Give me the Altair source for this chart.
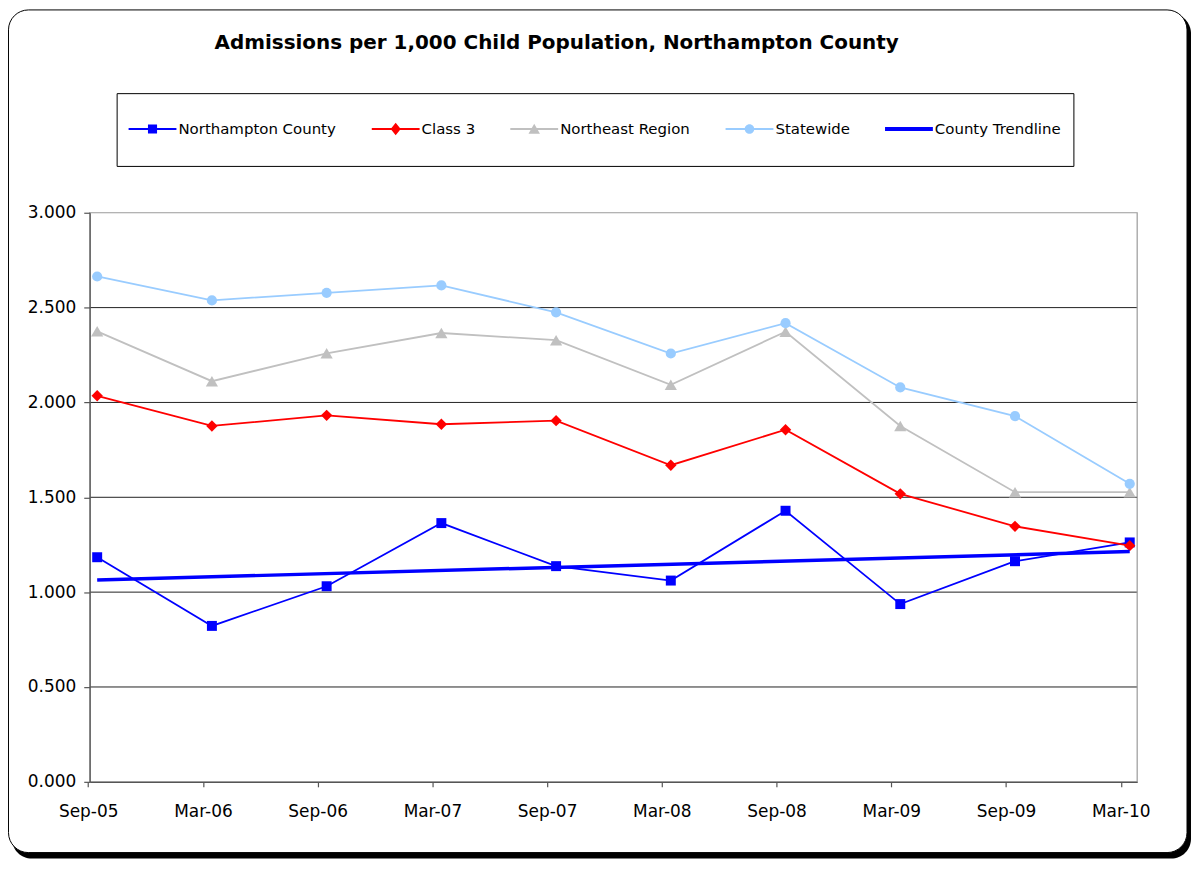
import altair as alt
import pandas as pd

periods = ["Sep-05", "Mar-06", "Sep-06", "Mar-07", "Sep-07",
           "Mar-08", "Sep-08", "Mar-09", "Sep-09", "Mar-10"]
county = [1.184, 0.822, 1.031, 1.364, 1.137, 1.061, 1.429, 0.937, 1.163, 1.262]
class3 = [2.035, 1.876, 1.932, 1.885, 1.904, 1.669, 1.856, 1.518, 1.347, 1.245]
northeast = [2.375, 2.112, 2.259, 2.366, 2.328, 2.093, 2.373, 1.876, 1.527, 1.527]
statewide = [2.664, 2.538, 2.578, 2.617, 2.475, 2.258, 2.418, 2.079, 1.928, 1.571]
y_ticks = [0.0, 0.5, 1.0, 1.5, 2.0, 2.5, 3.0]
grid_vals = [0.5, 1.0, 1.5, 2.0, 2.5]

series_names = ["Northampton County", "Class 3", "Northeast Region", "Statewide", "County Trendline"]
colors = ["#0000FF", "#FF0000", "#C0C0C0", "#99CCFF", "#0000FF"]
marker_shapes = ["square", "diamond", "triangle-up", "circle"]
marker_sizes = [100, 130, 150, 105]

# legend glyphs: line + marker; the trailing zero-length segment only extends the
# entry's layout box downward so the legend frame gets its reference height
EXT = "M0,1.04L0,1.04"
LINE = "M-1,-0.04H1V0.04H-1Z"
legend_paths = [
    LINE + "M-0.19,-0.19H0.19V0.19H-0.19Z" + EXT,
    LINE + "M0,-0.26L0.21,0L0,0.26L-0.21,0Z" + EXT,
    LINE + "M0,-0.22L0.24,0.2L-0.24,0.2Z" + EXT,
    LINE + "M-0.2,0A0.2,0.2,0,1,1,0.2,0A0.2,0.2,0,1,1,-0.2,0Z" + EXT,
    "M-1,-0.085H1V0.085H-1Z" + EXT,
]

rows = []
for name, vals in zip(series_names[:4], [county, class3, northeast, statewide]):
    for i, (p, v) in enumerate(zip(periods, vals)):
        rows.append({"idx": i, "period": p, "series": name, "value": v})
df = pd.DataFrame(rows)

W, H = 1051, 571
label_expr = "%s[round(datum.value)]" % str(periods)

x_enc = alt.X("idx:Q", title=None,
              scale=alt.Scale(domain=[-0.065, 9.065], nice=False, zero=False),
              axis=alt.Axis(values=list(range(10)), labelExpr=label_expr, grid=False,
                            tickOffset=-9, zindex=1))
y_axis = alt.Axis(values=y_ticks, format=".3f", grid=False, zindex=1)
y_scale = alt.Scale(domain=[0, 3], nice=False)

base = alt.Chart(df)

frame_shadow = alt.Chart(alt.Data(values=[{}])).mark_rect(
    color="black", cornerRadius=20
).encode(x=alt.value(-78), x2=alt.value(1105), y=alt.value(-200), y2=alt.value(648))
frame_white = alt.Chart(alt.Data(values=[{}])).mark_rect(
    fill="white", stroke="black", strokeWidth=1, cornerRadius=20
).encode(x=alt.value(-81.5), x2=alt.value(1101), y=alt.value(-203.5), y2=alt.value(642))

grid = alt.Chart(alt.Data(values=[{"g": v} for v in grid_vals])).mark_rule(
    color="#222222", strokeWidth=1
).encode(y=alt.Y("g:Q", scale=y_scale, axis=y_axis, title=None))

border = alt.Chart(alt.Data(values=[{}])).mark_rect(
    fillOpacity=0, stroke="#9a9a9a", strokeWidth=1.2
).encode(x=alt.value(0), x2=alt.value(W), y=alt.value(0), y2=alt.value(H))

layers = [frame_shadow, frame_white, grid, border]
for name, c, shp, sz in zip(series_names[:4], colors[:4], marker_shapes, marker_sizes):
    layers.append(
        base.transform_filter(alt.datum.series == name).mark_line(
            color=c, strokeWidth=1.8,
            point=alt.OverlayMarkDef(shape=shp, filled=True, size=sz, color=c, opacity=1),
        ).encode(x=x_enc, y=alt.Y("value:Q", scale=y_scale, axis=y_axis, title=None))
    )

trend = base.transform_filter(alt.datum.series == "Northampton County").transform_regression(
    "idx", "value"
).mark_line(color="#0000FF", strokeWidth=3.5).encode(
    x=x_enc, y=alt.Y("value:Q", scale=y_scale, axis=y_axis, title=None)
)
layers.append(trend)

legend_layer = base.transform_filter("false").mark_point(filled=True, opacity=1).encode(
    color=alt.Color("series:N", scale=alt.Scale(domain=series_names, range=colors),
                    legend=alt.Legend(title=None)),
    shape=alt.Shape("series:N", scale=alt.Scale(domain=series_names, range=legend_paths),
                    legend=alt.Legend(title=None)),
)
layers.append(legend_layer)

chart = alt.layer(*layers).properties(
    width=W, height=H,
    autosize=alt.AutoSizeParams(type="none"),
    padding={"left": 82, "top": 204, "right": 54, "bottom": 78},
    title=alt.TitleParams(
        text="Admissions per 1,000 Child Population, Northampton County",
        font="DejaVu Sans", fontSize=20, fontWeight="bold", color="black",
        anchor="middle", baseline="alphabetic", dx=-57, dy=60, offset=0,
    ),
).configure_view(
    strokeOpacity=0
).configure_axis(
    labelFont="DejaVu Sans", labelFontSize=17, labelColor="black",
    domainColor="#555555", domainWidth=1.2, tickColor="#555555", tickWidth=1.2,
    tickSize=6, labelPadding=8,
).configure_axisX(
    tickSize=5, labelPadding=17,
).configure_legend(
    orient="none", legendX=27, legendY=-120, direction="horizontal", columns=5,
    symbolSize=2304, symbolStrokeWidth=0, labelFont="DejaVu Sans", labelFontSize=15,
    labelColor="black", padding=12, strokeColor="black", fillColor="white",
    columnPadding=35, labelOffset=2, labelLimit=400, rowPadding=0,
)

chart.save("out.html", embed_options={"renderer": "svg", "actions": False})
